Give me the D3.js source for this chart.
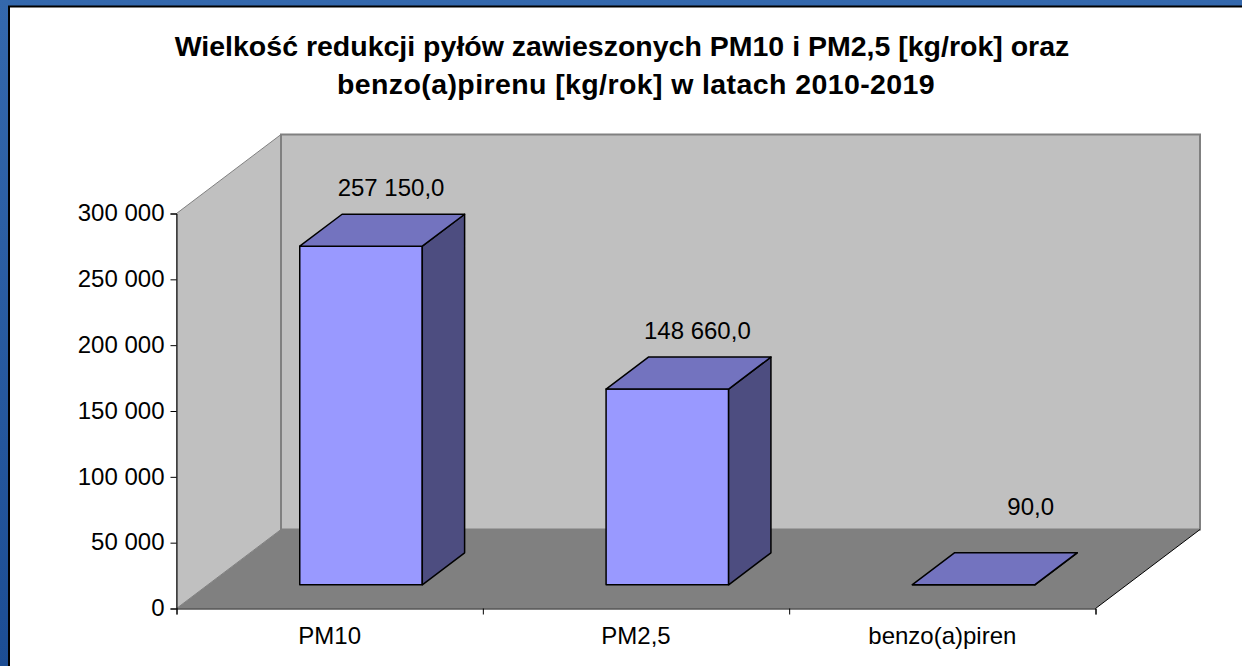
<!DOCTYPE html>
<html>
<head>
<meta charset="utf-8">
<script src="https://cdn.jsdelivr.net/npm/d3@7"></script>
<style>
    html, body { margin: 0; padding: 0; background: #fff; }
    svg { display: block; }
    text { font-family: "Liberation Sans", Arial, sans-serif; fill: #000; }
</style>
</head>
<body>
<div id="chart_div"></div>
<script>
const categories = ["PM10", "PM2,5", "benzo(a)piren"];
const values = [257150, 148660, 90];
const yTicks = [0, 50000, 100000, 150000, 200000, 250000, 300000];
const titleLines = [
    "Wielkość redukcji pyłów zawieszonych PM10 i PM2,5 [kg/rok] oraz",
    "benzo(a)pirenu [kg/rok] w latach 2010-2019"
];

const width = 1242;
const height = 666;

// plot box, front plane of the 3d floor
const plotLeft = 176.5, plotRight = 1095.5, plotBottom = 608.5, plotTop = 213.5;
const depthX = 104.5, depthY = 79;
// bar sits between these fractions of the chart depth
const barFront = 0.3, barBack = 0.705;

const locale = d3.formatLocale({ thousands: "\u00a0", grouping: [3], decimal: ",", currency: ["", ""] });
const tickFormat = locale.format(",.0f");
const labelFormat = locale.format(",.1f");

const svg = d3.select("#chart_div")
    .append("svg")
    .attr("width", width)
    .attr("height", height);

const grad = svg.append("defs").append("linearGradient")
    .attr("id", "bg")
    .attr("x1", 0).attr("y1", 0).attr("x2", 0).attr("y2", 1);
grad.append("stop").attr("offset", 0).attr("stop-color", "#3468ad");
grad.append("stop").attr("offset", 1).attr("stop-color", "#1c4d94");

svg.append("rect").attr("width", width).attr("height", height).attr("fill", "url(#bg)");
svg.append("rect")
    .attr("x", 9).attr("y", 7)
    .attr("width", width - 9).attr("height", height - 7)
    .attr("fill", "#fff");
svg.append("path")
    .attr("d", `M9,${height}V6.5H${width}`)
    .attr("fill", "none")
    .attr("stroke", "#000")
    .attr("stroke-width", 2);

const x = d3.scaleBand()
    .domain(categories)
    .range([plotLeft, plotRight])
    .paddingInner(0.6)
    .paddingOuter(0.3);

const y = d3.scaleLinear()
    .domain([0, 300000])
    .range([plotBottom, plotTop]);

const xEdges = d3.scaleLinear()
    .domain([0, categories.length])
    .range([plotLeft, plotRight]);

const line = d3.line();
// project a point: px on the front plane, value v, depth fraction z
const pt = (px, v, z) => [px + z * depthX, y(v) - z * depthY];
const poly = (pts) => line(pts) + "Z";

const wall = svg.append("g");
wall.append("path")
    .attr("d", poly([pt(plotLeft, 0, 0), pt(plotLeft, 0, 1), pt(plotLeft, 300000, 1), pt(plotLeft, 300000, 0)]))
    .attr("fill", "#c0c0c0")
    .attr("stroke", "#808080");
wall.append("path")
    .attr("d", poly([pt(plotLeft, 0, 1), pt(plotRight, 0, 1), pt(plotRight, 300000, 1), pt(plotLeft, 300000, 1)]))
    .attr("fill", "#c0c0c0")
    .attr("stroke", "#808080")
    .attr("stroke-width", 2);
wall.append("path")
    .attr("d", poly([pt(plotLeft, 0, 0), pt(plotRight, 0, 0), pt(plotRight, 0, 1), pt(plotLeft, 0, 1)]))
    .attr("fill", "#808080");
wall.append("path")
    .attr("d", line([pt(plotRight, 0, 0), pt(plotRight, 0, 1)]))
    .attr("fill", "none")
    .attr("stroke", "#000");

const rows = categories.map((c, i) => ({ c, v: values[i] }));

const bars = svg.append("g")
    .selectAll("g")
    .data(rows)
    .enter()
    .append("g")
    .attr("fill", "#9999ff")
    .attr("stroke", "#000")
    .attr("stroke-width", 1.5)
    .attr("stroke-linejoin", "round");

const x0 = (d) => x(d.c);
const x1 = (d) => x(d.c) + x.bandwidth();

bars.append("path")
    .attr("d", (d) => poly([pt(x0(d), 0, barFront), pt(x1(d), 0, barFront), pt(x1(d), d.v, barFront), pt(x0(d), d.v, barFront)]));
bars.append("path")
    .attr("fill", "#4d4d80")
    .attr("d", (d) => poly([pt(x1(d), 0, barFront), pt(x1(d), 0, barBack), pt(x1(d), d.v, barBack), pt(x1(d), d.v, barFront)]));
bars.append("path")
    .attr("fill", "#7373bf")
    .attr("d", (d) => poly([pt(x0(d), d.v, barFront), pt(x1(d), d.v, barFront), pt(x1(d), d.v, barBack), pt(x0(d), d.v, barBack)]));

// the small value's label was dragged away from its bar in the original
const labelShift = (d) => d.v < 1000 ? [27, -20] : [0, 0];

svg.append("g")
    .selectAll("text")
    .data(rows)
    .enter()
    .append("text")
    .attr("x", (d) => pt(x0(d) + x.bandwidth() / 2, d.v, barFront)[0] + 30 + labelShift(d)[0])
    .attr("y", (d) => pt(0, d.v, barFront)[1] - 50 + labelShift(d)[1])
    .attr("text-anchor", "middle")
    .style("font-size", "24px")
    .text((d) => labelFormat(d.v));

const yAxis = svg.append("g")
    .attr("transform", `translate(${plotLeft},0)`)
    .call(d3.axisLeft(y).tickValues(yTicks).tickFormat(tickFormat).tickSize(6).tickPadding(6));
yAxis.selectAll("text").attr("dy", "0.3em").style("font-size", "24px");

svg.append("g")
    .attr("transform", `translate(0,${plotBottom})`)
    .call(d3.axisBottom(xEdges).ticks(categories.length).tickFormat("").tickSize(6).tickSizeOuter(6));

const xAxis = svg.append("g")
    .attr("transform", `translate(0,${plotBottom})`)
    .call(d3.axisBottom(x).tickSize(0).tickPadding(18.5));
xAxis.select(".domain").remove();
xAxis.selectAll("text").style("font-size", "24px");

// second title line sits a bit right of centre in the original
svg.append("g")
    .selectAll("text")
    .data(titleLines)
    .enter()
    .append("text")
    .attr("x", (d, i) => i ? 636 : 622)
    .attr("y", (d, i) => 56 + i * 38)
    .attr("text-anchor", "middle")
    .style("font-size", "28.5px")
    .style("font-weight", "bold")
    .style("letter-spacing", (d, i) => i ? "0.4px" : null)
    .text((d) => d);
</script>
</body>
</html>
